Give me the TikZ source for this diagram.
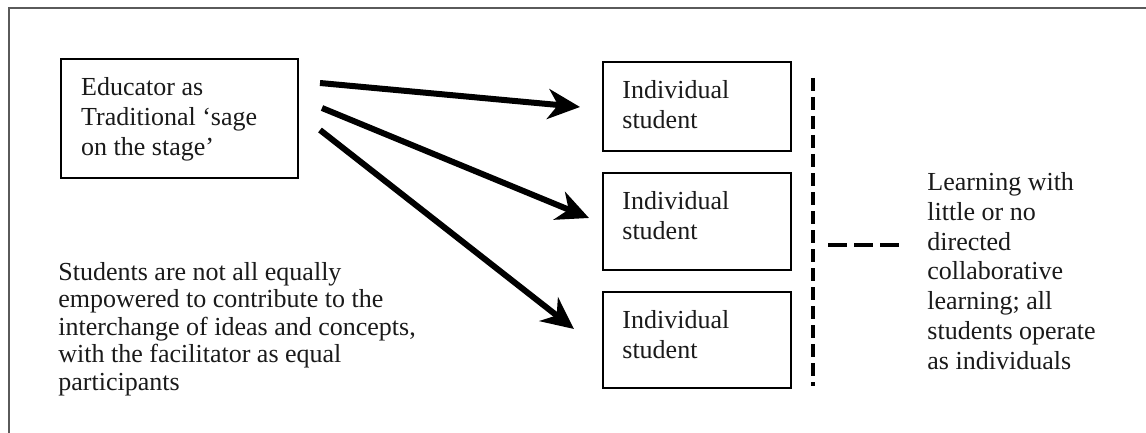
\documentclass[tikz,border=0pt]{standalone}
\usepackage{fontspec}
\setmainfont{Liberation Serif}
\usetikzlibrary{arrows.meta}
\definecolor{framegray}{HTML}{5A5A5A}
\definecolor{inkc}{HTML}{1A1A1A}
\begin{document}
\begin{tikzpicture}[x=0.5pt,y=-0.5pt,
  every node/.style={text=inkc, font=\fontsize{13pt}{14pt}\selectfont},
  bigbox/.style={draw=black, line width=1.2pt, minimum width=118.5pt, inner sep=0pt},
  stubox/.style={draw=black, line width=1pt, minimum width=94pt, inner sep=0pt},
  intext/.style={anchor=north west, align=left, inner sep=0pt, xshift=10.5pt, yshift=-9.5pt,
    font=\fontsize{13pt}{15pt}\selectfont, text=inkc},
  freetext/.style={anchor=north west, align=left, inner sep=0pt},
  fatarrow/.style={line width=3pt, -{Stealth[length=16pt, width=15pt, inset=5pt]}},
  vdash/.style={line width=2.4pt, dash pattern=on 6.5pt off 3pt},
  hdash/.style={line width=2.2pt, dash pattern=on 9.5pt off 3.5pt}
]
\useasboundingbox (0,0) rectangle (1146,433);
\fill[white] (0,0) rectangle (1146,433);
% outer frame (top and left edges)
\draw[framegray, line width=1pt] (9,433) -- (9,8) -- (1146,8);

% educator box
\node[bigbox, minimum height=59.5pt,
  label={[intext]north west:Educator as\\Traditional ‘sage\\on the stage’}] (edu) at (179.5,118.5) {};

% student boxes
\node[stubox, minimum height=44.5pt,
  label={[intext, xshift=-0.5pt]north west:Individual\\student}] (s1) at (697,106.5) {};
\node[stubox, minimum height=48.5pt,
  label={[intext, xshift=-0.5pt]north west:Individual\\student}] (s2) at (697,221.5) {};
\node[stubox, minimum height=48pt,
  label={[intext, xshift=-0.5pt]north west:Individual\\student}] (s3) at (697,340) {};

% arrows
\coordinate (a1s) at (320,83);  \coordinate (a1e) at (580,107);
\coordinate (a2s) at (322,108); \coordinate (a2e) at (589,218);
\coordinate (a3s) at (320,130); \coordinate (a3e) at (574,329);
\draw[fatarrow] (a1s) -- (a1e);
\draw[fatarrow] (a2s) -- (a2e);
\draw[fatarrow] (a3s) -- (a3e);

% dashed lines
\coordinate (vtop) at (813,78);
\coordinate (vbot) at (813,386);
\coordinate (hl) at (828,245);
\coordinate (hr) at (899,245);
\draw[vdash] (vtop) -- (vbot);
\draw[hdash] (hl) -- (hr);

% free texts
\node[freetext, font=\fontsize{13pt}{13.75pt}\selectfont] (lefttxt) at (58,262)
  {Students are not all equally\\empowered to contribute to the\\interchange of ideas and concepts,\\with the facilitator as equal\\participants};
\node[freetext, font=\fontsize{13pt}{14.9pt}\selectfont] (righttxt) at (927,172)
  {Learning with\\little or no\\directed\\collaborative\\learning; all\\students operate\\as individuals};
\end{tikzpicture}
\end{document}
